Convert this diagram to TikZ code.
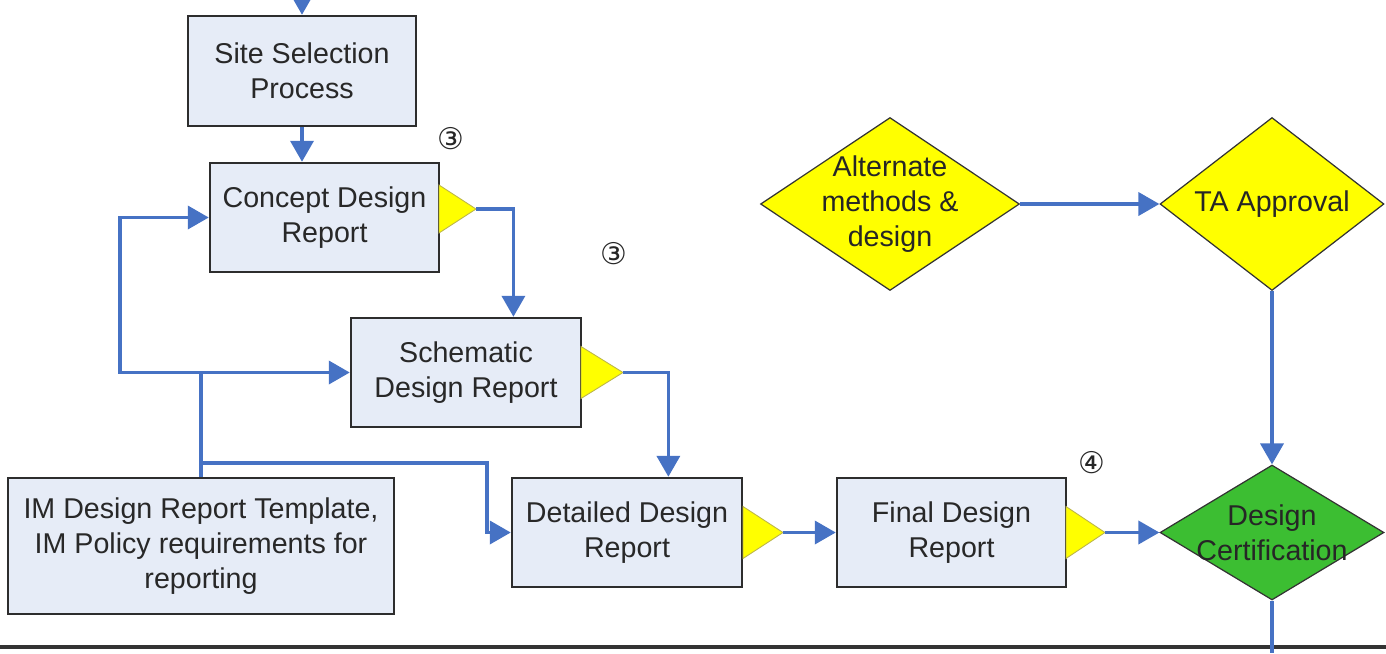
\documentclass[tikz,border=0pt]{standalone}
\usepackage{fontspec}
\setmainfont{Liberation Sans}
\newfontfamily\symfont{DejaVu Sans}
\usetikzlibrary{shapes.geometric,arrows.meta,calc}
\definecolor{boxfill}{RGB}{230,236,247}
\definecolor{boxline}{RGB}{45,45,45}
\definecolor{flow}{RGB}{70,114,196}
\definecolor{txt}{RGB}{40,40,40}
\definecolor{certgreen}{RGB}{60,190,50}
\definecolor{ylw}{RGB}{255,255,0}
\begin{document}
\begin{tikzpicture}[x=0.02cm,y=-0.02cm,
  rbox/.style={draw=boxline, line width=1.4pt, fill=boxfill, text=txt, align=center, inner sep=0pt, font=\fontsize{16.3}{20}\selectfont},
  dshape/.style={diamond, draw=black!80, line width=0.7pt, inner sep=0pt},
  dtext/.style={align=center, text=black!85, inner sep=0pt, font=\fontsize{16.3}{20}\selectfont},
  flowline/.style={draw=flow, line width=2.1pt},
  flowarrow/.style={flowline, -{Triangle[length=0.42cm,width=0.46cm]}},
  flag/.style={fill=ylw, draw=olive!60, line width=0.5pt},
  num/.style={font=\symfont\fontsize{17}{17}\selectfont, text=black!85, inner sep=0pt}
]
\useasboundingbox (0,0) rectangle (1386,653);

% boxes
\node[rbox, minimum width=4.56cm, minimum height=2.2cm] (site) at (302,71) {Site Selection\\Process};
\node[rbox, minimum width=4.58cm, minimum height=2.18cm] (concept) at (324.5,217.5) {Concept Design\\Report};
\node[rbox, minimum width=4.6cm, minimum height=2.18cm] (schem) at (466,372.5) {Schematic\\Design Report};
\node[rbox, minimum width=4.6cm, minimum height=2.18cm] (detail) at (627,532.5) {Detailed Design\\Report};
\node[rbox, minimum width=4.58cm, minimum height=2.18cm] (final) at (951.5,532.5) {Final Design\\Report};
\node[rbox, minimum width=7.72cm, minimum height=2.72cm] (im) at (201,546) {IM Design Report Template,\\IM Policy requirements for\\reporting};

% yellow flags
\filldraw[flag] (439,185) -- (476,209) -- (439,233) -- cycle;
\coordinate (ct) at (476,209);
\filldraw[flag] (581,346.5) -- (623,372.5) -- (581,398.5) -- cycle;
\coordinate (st) at (623,372.5);
\filldraw[flag] (743,506.5) -- (783,532.5) -- (743,558.5) -- cycle;
\coordinate (dt) at (783,532.5);
\filldraw[flag] (1066,506.5) -- (1105,532.5) -- (1066,558.5) -- cycle;
\coordinate (ft) at (1105,532.5);

% diamonds
\node[dshape, fill=ylw, minimum width=5.18cm, minimum height=3.46cm] (alt) at (890,204) {};
\node[dtext] (altt) at (alt.center) {Alternate\\methods \&\\design};
\node[dshape, fill=ylw, minimum width=4.48cm, minimum height=3.46cm] (ta) at (1272,204) {};
\node[dtext] (tat) at (ta.center) {TA Approval};
\node[dshape, fill=certgreen, minimum width=4.48cm, minimum height=2.7cm] (cert) at (1272,532.5) {};
\node[dtext] (certt) at (cert.center) {Design\\Certification};

% numbers
\node[num] (n1) at (451,139) {③};
\node[num] (n2) at (614,254) {③};
\node[num] (n3) at (1092,463) {④};

% coordinates
\coordinate (top) at (302,0);
\coordinate (bot) at (1272,653);
\coordinate (schin) at ($(schem.north west)!0.704!(schem.north east)$);
\coordinate (detin) at ($(detail.north west)!0.678!(detail.north east)$);
\coordinate (jA) at (im.north |- schem.west);
\coordinate (loopL) at ($(jA)+(-81,0)$);
\coordinate (jB) at ($(jA)+(0,90.5)$);
\coordinate (bendB) at ($(jB)+(286,0)$);
\coordinate (bl) at (0,647);
\coordinate (br) at (1386,647);

% bottom rule
\draw[line width=2pt, black!80] (bl) -- (br);

% connectors
\draw[flowarrow] (top) -- (site.north);
\draw[flowarrow] (site.south) -- (site.south |- concept.north);
\draw[flowarrow] (ct) -| (schin);
\draw[flowarrow] (st) -| (detin);
\draw[flowarrow] (dt) -- (final.west);
\draw[flowarrow] (ft) -- (cert.west);
\draw[flowarrow] (alt.east) -- (ta.west);
\draw[flowarrow] (ta.south) -- (cert.north);
\draw[flowline] (cert.south) -- (bot);
\draw[flowline] (im.north) -- (jA);
\draw[flowarrow] (jA) -- (schem.west);
\draw[flowarrow] (jA) -- (loopL) |- (concept.west);
\draw[flowarrow] (jB) -- (bendB) |- (detail.west);
\end{tikzpicture}
\end{document}
